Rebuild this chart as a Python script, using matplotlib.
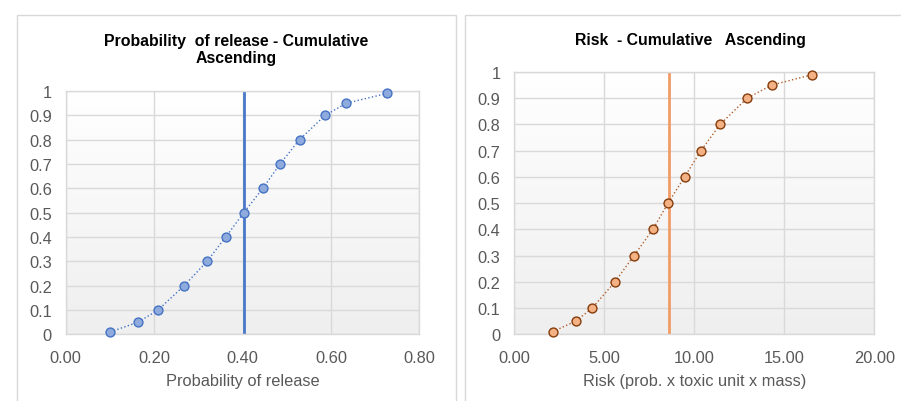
import numpy as np
import matplotlib
matplotlib.use("Agg")
import matplotlib.pyplot as plt
from matplotlib.patches import Rectangle

plt.rcParams['font.family'] = ['Liberation Sans', 'DejaVu Sans']

# Data
cum_levels = [0.01, 0.05, 0.1, 0.2, 0.3, 0.4, 0.5, 0.6, 0.7, 0.8, 0.9, 0.95, 0.99]
prob_release = [0.101, 0.164, 0.209, 0.268, 0.320, 0.362, 0.403, 0.446, 0.485, 0.529, 0.587, 0.635, 0.727]
risk_values = [2.13, 3.41, 4.33, 5.59, 6.65, 7.70, 8.54, 9.46, 10.37, 11.43, 12.93, 14.30, 16.56]
prob_median = 0.403
risk_median = 8.61

y_ticks = [0, 0.1, 0.2, 0.3, 0.4, 0.5, 0.6, 0.7, 0.8, 0.9, 1]
y_tick_labels = ["0", "0.1", "0.2", "0.3", "0.4", "0.5", "0.6", "0.7", "0.8", "0.9", "1"]
prob_ticks = [0.0, 0.2, 0.4, 0.6, 0.8]
risk_ticks = [0, 5, 10, 15, 20]

W, H = 901, 402
fig = plt.figure(figsize=(W / 100, H / 100), dpi=100)

grid_col = "#d9d9d9"
text_col = "#595959"


def px_axes(x0, x1, y0, y1):
    return fig.add_axes([x0 / W, (H - y1) / H, (x1 - x0) / W, (y1 - y0) / H])


# chart boxes
for (bx0, bx1) in [(17, 456), (465, 905)]:
    fig.patches.append(Rectangle((bx0 / W, -0.01), (bx1 - bx0) / W, (H - 16) / H + 0.01,
                                 transform=fig.transFigure, facecolor="white",
                                 edgecolor="#d9d9d9", linewidth=1.0, zorder=-1))

grad = np.linspace(0, 1, 256).reshape(-1, 1)
cmap = matplotlib.colors.LinearSegmentedColormap.from_list("bg", ["#ffffff", "#efefef"])


def style(ax, xticks, xfmt):
    ax.imshow(grad, extent=[0, 1, 0, 1], transform=ax.transAxes, aspect="auto",
              cmap=cmap, zorder=0)
    ax.set_axisbelow(True)
    ax.grid(True, color=grid_col, linewidth=1.0)
    for s in ax.spines.values():
        s.set_color(grid_col)
        s.set_linewidth(1.0)
    ax.set_ylim(0, 1)
    ax.set_yticks(y_ticks)
    ax.set_yticklabels(y_tick_labels)
    ax.set_xticks(xticks)
    ax.set_xticklabels([xfmt.format(v) for v in xticks])
    ax.set_xlim(xticks[0], xticks[-1])
    ax.tick_params(length=0, labelsize=11.8, labelcolor=text_col)
    ax.tick_params(axis="x", pad=11)
    ax.tick_params(axis="y", pad=10)


# left chart
ax1 = px_axes(65.7, 419.3, 92, 335.3)
style(ax1, prob_ticks, "{:.2f}")
ax1.axvline(prob_median, color="#4a78c8", linewidth=2.0, zorder=2)
ax1.plot(prob_release, cum_levels, linestyle=":", color="#4472c4", linewidth=1.0,
         marker="o", markersize=6.4, markerfacecolor="#8faadc", markeredgecolor="#4472c4",
         markeredgewidth=1.0, zorder=3, clip_on=False)
ax1.set_xlabel("Probability of release", fontsize=11.8, color=text_col, labelpad=6)
fig.text(236.5 / W, 1 - 50 / H, "Probability  of release - Cumulative\nAscending",
         ha="center", va="center", fontsize=11.4, fontweight="bold", color="black",
         linespacing=1.2)

# right chart
ax2 = px_axes(514.3, 874.3, 73, 335.3)
style(ax2, risk_ticks, "{:.2f}")
ax2.axvline(risk_median, color="#f19b65", linewidth=2.0, zorder=2)
ax2.plot(risk_values, cum_levels, linestyle=":", color="#b0602c", linewidth=1.0,
         marker="o", markersize=6.4, markerfacecolor="#f4b183", markeredgecolor="#843c0c",
         markeredgewidth=1.0, zorder=3, clip_on=False)
ax2.set_xlabel("Risk (prob. x toxic unit x mass)", fontsize=11.8, color=text_col, labelpad=6)
fig.text(690 / W, 1 - 40 / H, "Risk  - Cumulative   Ascending",
         ha="center", va="center", fontsize=11.4, fontweight="bold", color="black")

fig.savefig("out.png", dpi=100)
